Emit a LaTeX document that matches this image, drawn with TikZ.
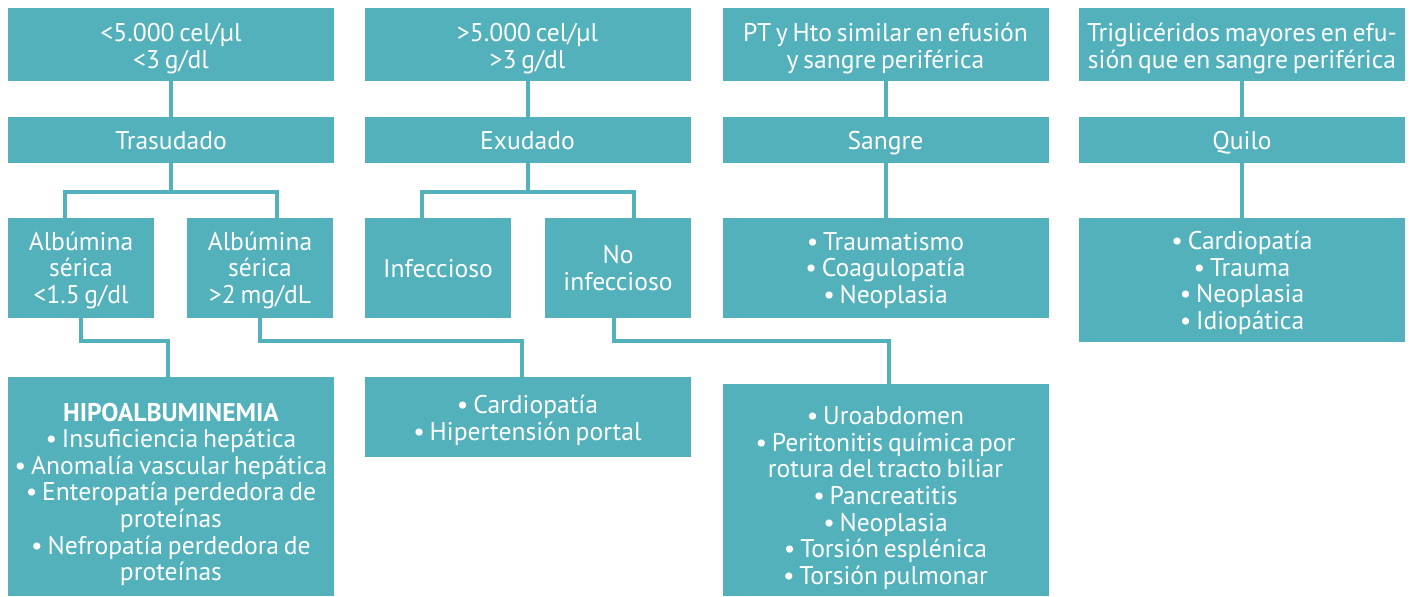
\documentclass[tikz,border=0pt]{standalone}
\usepackage{fontspec}
\setmainfont{PT Sans}[WordSpace=0.7]
\definecolor{effteal}{RGB}{82,177,186}

\begin{document}
\begin{tikzpicture}[x=0.5pt, y=-0.5pt,
  box/.style={fill=effteal, text=white, inner sep=0pt, align=center,
    font=\fontsize{12.8}{13.3}\selectfont},
  wide/.style={box, minimum width=163pt},
  narrow/.style={box, minimum width=73pt},
  down/.style={text height=#1, text depth=0pt},
  link/.style={draw=effteal, line width=2pt}]
\useasboundingbox (0,0) rectangle (1413,596);

% Nodes
\node[wide, minimum height=36.5pt, down=23.8pt] (v0) at (171,44.5) {<5.000 cel/µl\\<3 g/dl};
\node[wide, minimum height=36.5pt, down=23.8pt] (v1) at (527.5,44.5) {>5.000 cel/µl\\>3 g/dl};
\node[wide, minimum height=36.5pt, down=23.8pt] (v2) at (885.5,44.5) {PT y Hto similar en efusión\\y sangre periférica};
\node[wide, minimum height=36.5pt, down=23.8pt] (v3) at (1242,44.5) {Triglicéridos mayores en efu-\\sión que en sangre periférica};
\node[wide, minimum height=23pt, down=9.3pt] (v4) at (171,140) {Trasudado};
\node[wide, minimum height=23pt, down=9.3pt] (v5) at (527.5,140) {Exudado};
\node[wide, minimum height=23pt, down=9.3pt] (v6) at (885.5,140) {Sangre};
\node[wide, minimum height=23pt, down=9.3pt] (v7) at (1242,140) {Quilo};
\node[narrow, minimum height=50pt, down=35.3pt] (v8) at (81,268) {Albúmina\\sérica\\<1.5 g/dl};
\node[narrow, minimum height=50pt, down=35.3pt] (v9) at (260,268) {Albúmina\\sérica\\>2 mg/dL};
\node[narrow, minimum height=50pt, down=9.3pt] (v10) at (438,268) {Infeccioso};
\node[narrow, minimum height=50pt, down=22pt] (v11) at (618,268) {No\\infeccioso};
\node[wide, minimum height=50pt, down=35.3pt] (v12) at (885.5,268) {• Traumatismo\\• Coagulopatía\\• Neoplasia};
\node[wide, minimum height=62pt, down=49.3pt] (v13) at (1242,280) {• Cardiopatía\\• Trauma\\• Neoplasia\\• Idiopática};
\node[wide, minimum height=109.5pt, down=94.2pt] (v14) at (171,486.5) {\textbf{HIPOALBUMINEMIA}\\• Insuficiencia hepática\\• Anomalía vascular hepática\\• Enteropatía perdedora de\\proteínas\\• Nefropatía perdedora de\\proteínas};
\node[wide, minimum height=40pt, down=23pt] (v15) at (527.5,417) {• Cardiopatía\\• Hipertensión portal};
\node[wide, minimum height=106pt, down=94.3pt] (v16) at (885.5,490) {• Uroabdomen\\• Peritonitis química por\\rotura del tracto biliar\\• Pancreatitis\\• Neoplasia\\• Torsión esplénica\\• Torsión pulmonar};

% Connectors
\draw[link] (v0) -- (v4);
\draw[link] (v1) -- (v5);
\draw[link] (v2) -- (v6);
\draw[link] (v3) -- (v7);
\draw[link] (v6) -- (v12);
\draw[link] (v7) -- (v13);
\draw[link] (v4.south) -- ++(0,29) -| ([xshift=-8pt]v8.north);
\draw[link] (v4.south) -- ++(0,29) -| ([xshift=8.5pt]v9.north);
\draw[link] (v5.south) -- ++(0,29) -| ([xshift=-8pt]v10.north);
\draw[link] (v5.south) -- ++(0,29) -| ([xshift=8pt]v11.north);
\draw[link] (v8.south) -- ++(0,23) -| ([xshift=-1.5pt]v14.north);
\draw[link] (v9.south) -- ++(0,23) -| ([xshift=-2.75pt]v15.north);
\draw[link] ([xshift=-2pt]v11.south) -- ++(0,23) -| ([xshift=1.75pt]v16.north);

\end{tikzpicture}
\end{document}
